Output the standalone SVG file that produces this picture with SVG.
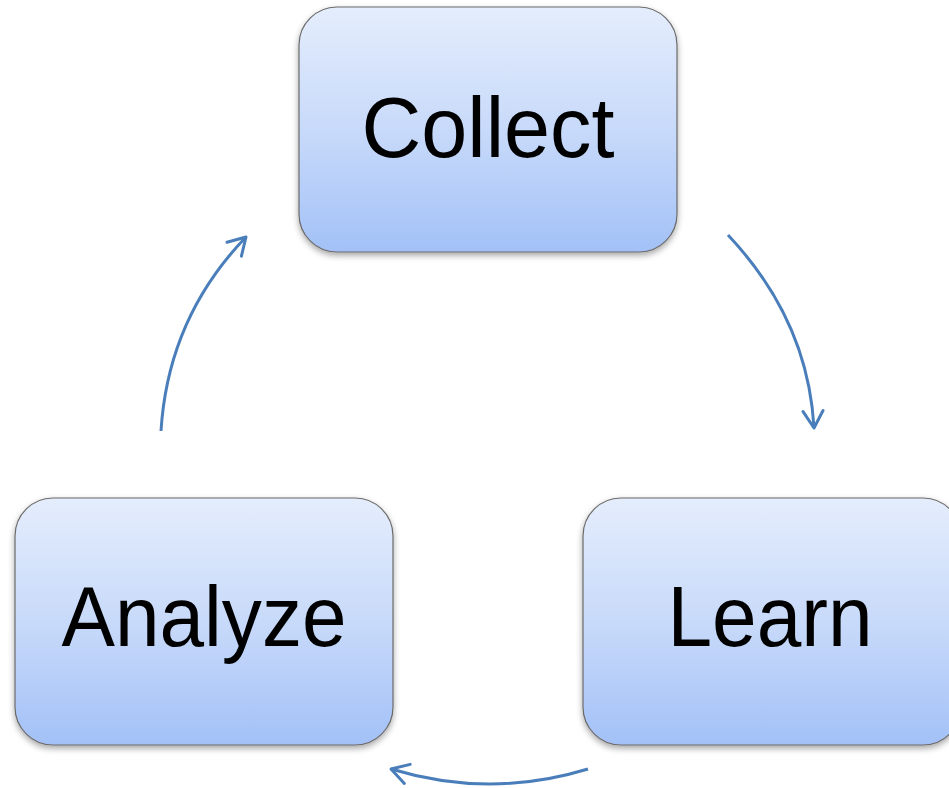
<svg xmlns="http://www.w3.org/2000/svg" width="949" height="788" viewBox="0 0 949 788">
  <defs>
    <linearGradient id="boxFill" x1="0" y1="0" x2="0" y2="1">
      <stop offset="0" stop-color="#e4edfc"/>
      <stop offset="0.5" stop-color="#c8dafa"/>
      <stop offset="1" stop-color="#a3c1f7"/>
    </linearGradient>
    <filter id="shadow" x="-10%" y="-10%" width="120%" height="125%">
      <feDropShadow dx="0" dy="3" stdDeviation="3" flood-color="#000" flood-opacity="0.35"/>
    </filter>
    <marker id="head" viewBox="0 0 24 24" refX="20" refY="12" markerWidth="24" markerHeight="24" markerUnits="userSpaceOnUse" orient="auto">
      <path d="M3,2 L20,12 L3,22" fill="none" stroke="#4a7ebb" stroke-width="3" stroke-linecap="round" stroke-linejoin="round"/>
    </marker>
  </defs>
  <style>
    .box { fill: url(#boxFill); stroke: #6b6b6b; stroke-width: 1.2; filter: url(#shadow); }
    .label { font-family: "Liberation Sans", "Open Sans", Arial, sans-serif; font-size: 85px; fill: #000; text-anchor: middle; }
    .arrow { fill: none; stroke: #4a7ebb; stroke-width: 3; marker-end: url(#head); }
  </style>
  <rect width="949" height="788" fill="#fff"/>

  <g id="connectors">
    <path class="arrow" d="M728,235 Q808,320 814,428"/>
    <path class="arrow" d="M588,769 Q490,799 391,769"/>
    <path class="arrow" d="M161,431 Q168,318 246,237"/>
  </g>

  <g id="collect">
    <rect class="box" x="299" y="7" width="378" height="245" rx="38" ry="38"/>
    <text class="label" x="488" y="157" textLength="253" lengthAdjust="spacingAndGlyphs">Collect</text>
  </g>

  <g id="learn">
    <rect class="box" x="583" y="498" width="378" height="247" rx="38" ry="38"/>
    <text class="label" x="770" y="646" textLength="205" lengthAdjust="spacingAndGlyphs">Learn</text>
  </g>

  <g id="analyze">
    <rect class="box" x="15" y="498" width="378" height="247" rx="38" ry="38"/>
    <text class="label" x="204" y="646" textLength="285" lengthAdjust="spacingAndGlyphs">Analyze</text>
  </g>
</svg>
